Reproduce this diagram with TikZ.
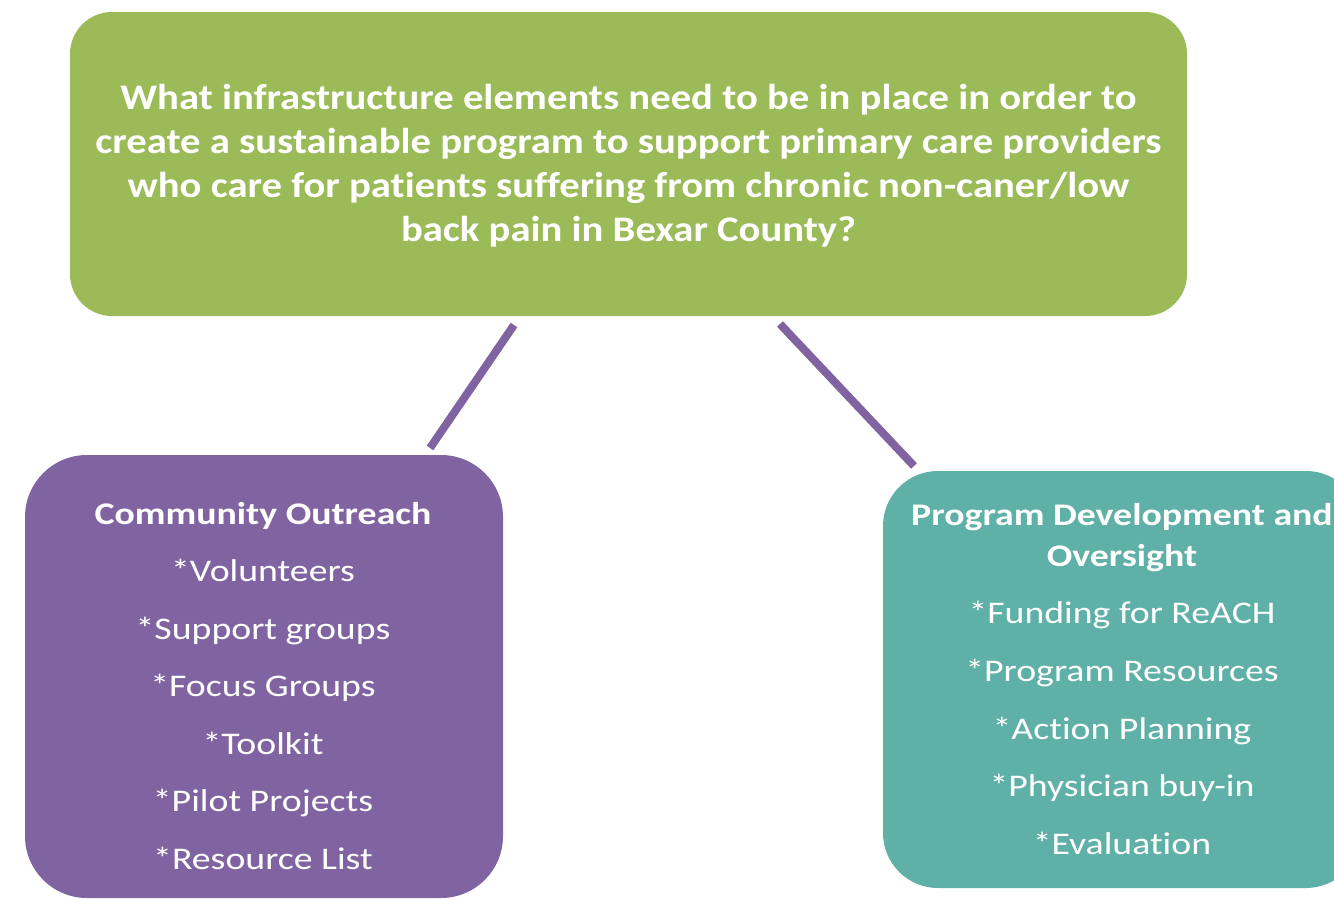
\documentclass[tikz,border=0pt]{standalone}
\usepackage{fontspec}
\setmainfont{Carlito}[Ligatures=NoCommon]
\newfontfamily\qfont{Carlito}[FakeStretch=1.13, Ligatures=NoCommon]
\newfontfamily\lfont{Carlito}[FakeStretch=1.2, Ligatures=NoCommon]
\definecolor{qgreen}{HTML}{9BBB59}
\definecolor{cpurple}{HTML}{8064A2}
\definecolor{pteal}{HTML}{5FB0A6}
\begin{document}
\begin{tikzpicture}[x=1pt,y=-1pt,
  box/.style={rounded corners=#1, inner sep=0pt, draw=none},
  txt/.style={text=white, align=center, inner sep=0pt},
  conn/.style={draw=cpurple, line width=8pt}]
\useasboundingbox (0,0) rectangle (1334,900);
\clip (0,0) rectangle (1334,900);

% question box
\node[box=42pt, fill=qgreen, minimum width=1117pt, minimum height=304pt] (q) at (628.5,164) {};
\node[txt, font=\qfont\fontsize{36}{44}\selectfont\bfseries] (qt) at (628.5,166)
  {What infrastructure elements need to be in place in order to\\
   create a sustainable program to support primary care providers\\
   who care for patients suffering from chronic non-caner/low\\
   back pain in Bexar County?};

% community outreach box
\node[box=62pt, fill=cpurple, minimum width=478pt, minimum height=443pt] (co) at (264,676.5) {};
\node[txt, font=\lfont\fontsize{31.5}{41}\selectfont] (cot) at (263,686)
  {\textbf{Community Outreach}\\[16pt]
   *Volunteers\\[16.5pt]
   *Support groups\\[16.5pt]
   *Focus Groups\\[16.5pt]
   *Toolkit\\[16.5pt]
   *Pilot Projects\\[16.5pt]
   *Resource List};

% program development box
\node[box=55pt, fill=pteal, minimum width=478pt, minimum height=417pt] (pd) at (1122,679.5) {};
\node[txt, font=\lfont\fontsize{31.5}{41}\selectfont] (pdt) at (1122,679)
  {\textbf{Program Development and}\\
   \textbf{Oversight}\\[16pt]
   *Funding for ReACH\\[17pt]
   *Program Resources\\[17pt]
   *Action Planning\\[16.5pt]
   *Physician buy-in\\[16.5pt]
   *Evaluation};

% connectors
\coordinate (a1) at (514,325);
\coordinate (a2) at (430,448);
\coordinate (b1) at (780,324);
\coordinate (b2) at (914,466);
\draw[conn] (a1) -- (a2);
\draw[conn] (b1) -- (b2);
\end{tikzpicture}
\end{document}
